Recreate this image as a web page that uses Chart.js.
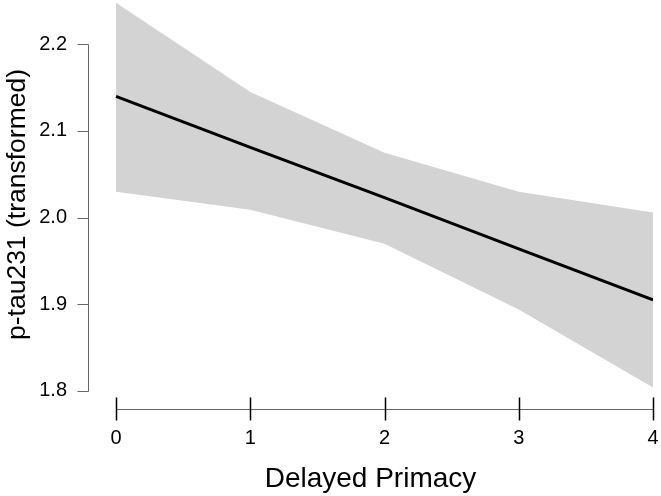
<!DOCTYPE html>
<html>
<head>
<meta charset="utf-8">
<script src="https://cdn.jsdelivr.net/npm/chart.js@4.4.1/dist/chart.umd.min.js"></script>
<style>
  html, body { margin: 0; padding: 0; background: #fff; }
  #wrap { width: 661px; height: 496px; }
</style>
</head>
<body>
<div id="wrap"><canvas id="chart" width="661" height="496"></canvas></div>
<script>
// values
const xValues = [0, 1, 2, 3, 4];
const fitValues = [2.140, 2.081, 2.023, 1.964, 1.905];
const upperValues = [2.248, 2.145, 2.075, 2.030, 2.006];
const lowerValues = [2.030, 2.009, 1.970, 1.894, 1.804];
const xTicks = [0, 1, 2, 3, 4];
const yTicks = [1.8, 1.9, 2.0, 2.1, 2.2];

const FONT = '"Liberation Sans", Arial, Helvetica, sans-serif';

const toPoints = (ys) => xValues.map((x, i) => ({ x: x, y: ys[i] }));

// R style axes: lines only span the tick range, x ticks cross the line
const rAxes = {
    id: 'rAxes',
    afterDraw(chart) {
        const { ctx, scales: { x, y }, chartArea } = chart;
        ctx.save();
        ctx.lineWidth = 1;

        // y axis
        const ax = Math.round(chartArea.left) + 0.5;
        const yTop = y.getPixelForValue(yTicks[yTicks.length - 1]);
        const yBot = y.getPixelForValue(yTicks[0]);
        ctx.strokeStyle = '#666';
        ctx.beginPath();
        ctx.moveTo(ax, Math.round(yTop) + 0.5);
        ctx.lineTo(ax, Math.round(yBot) + 0.5);
        yTicks.forEach(v => {
            const py = Math.round(y.getPixelForValue(v)) + 0.5;
            ctx.moveTo(ax - 11, py);
            ctx.lineTo(ax, py);
        });
        ctx.stroke();

        // x axis
        const ay = Math.round(chartArea.bottom) + 0.5;
        ctx.beginPath();
        ctx.moveTo(Math.round(x.getPixelForValue(xTicks[0])) + 0.5, ay);
        ctx.lineTo(Math.round(x.getPixelForValue(xTicks[xTicks.length - 1])) + 0.5, ay);
        ctx.stroke();

        ctx.strokeStyle = '#000';
        ctx.lineWidth = 1.5;
        ctx.beginPath();
        xTicks.forEach(v => {
            const px = Math.round(x.getPixelForValue(v)) + 0.5;
            ctx.moveTo(px, ay - 12);
            ctx.lineTo(px, ay + 11);
        });
        ctx.stroke();
        ctx.restore();
    }
};

new Chart(document.getElementById('chart'), {
    type: 'line',
    data: {
        datasets: [
            {
                label: 'fit',
                data: toPoints(fitValues),
                borderWidth: 3,
                borderColor: '#000',
                pointRadius: 0,
                fill: false,
                tension: 0
            },
            {
                label: 'upper',
                data: toPoints(upperValues),
                borderWidth: 0,
                borderColor: 'rgba(0,0,0,0)',
                backgroundColor: '#d3d3d3',
                pointRadius: 0,
                fill: '+1',
                tension: 0
            },
            {
                label: 'lower',
                data: toPoints(lowerValues),
                borderWidth: 0,
                borderColor: 'rgba(0,0,0,0)',
                pointRadius: 0,
                fill: false,
                tension: 0
            }
        ]
    },
    options: {
        responsive: false,
        animation: false,
        devicePixelRatio: 1,
        layout: { padding: { top: 0, right: 8, bottom: 0, left: 0 } },
        plugins: {
            legend: { display: false },
            tooltip: { enabled: false }
        },
        scales: {
            x: {
                type: 'linear',
                min: -0.2086,
                max: 4,
                afterBuildTicks: (s) => { s.ticks = xTicks.map(v => ({ value: v })); },
                afterFit: (s) => {
                    s.height = 87;
                    s.paddingLeft = 0;
                    s.paddingRight = 0;
                },
                grid: { display: false, drawTicks: false },
                border: { display: false },
                ticks: {
                    padding: 17,
                    color: '#000',
                    font: { family: FONT, size: 20 },
                    callback: (v) => String(v)
                },
                title: {
                    display: true,
                    text: 'Delayed Primacy',
                    color: '#000',
                    font: { family: FONT, size: 28 },
                    padding: { top: 0, bottom: 0 }
                }
            },
            y: {
                type: 'linear',
                min: 1.7792,
                max: 2.2511,
                afterBuildTicks: (s) => { s.ticks = yTicks.map(v => ({ value: v })); },
                afterFit: (s) => {
                    s.width = 88;
                    s.paddingTop = 0;
                    s.paddingBottom = 0;
                },
                grid: { display: false, drawTicks: false },
                border: { display: false },
                ticks: {
                    padding: 21,
                    color: '#000',
                    font: { family: FONT, size: 20 },
                    callback: (v) => Number(v).toFixed(1)
                },
                title: {
                    display: true,
                    text: 'p-tau231 (transformed)',
                    color: '#000',
                    font: { family: FONT, size: 26.5 },
                    padding: { top: 2, bottom: 0 }
                }
            }
        }
    },
    plugins: [rAxes]
});
</script>
</body>
</html>
